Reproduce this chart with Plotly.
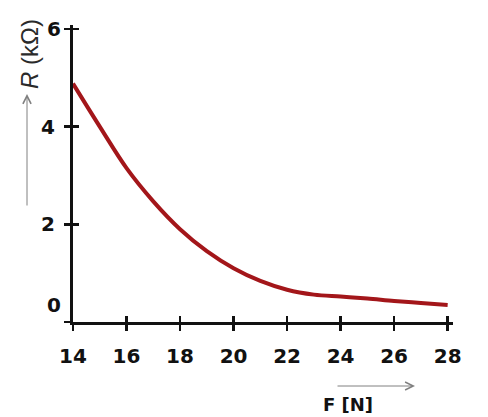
import plotly.graph_objects as go

force_n = [14, 15, 16, 17, 18, 19, 20, 21, 22, 23, 24, 25, 26, 27, 28]
resistance_kohm = [4.88, 4.0, 3.15, 2.47, 1.9, 1.45, 1.1, 0.84, 0.66, 0.56, 0.52, 0.48, 0.43, 0.39, 0.35]
x_ticks = [14, 16, 18, 20, 22, 24, 26, 28]
y_ticks = [0, 2, 4, 6]

W, H = 488, 417
ML, MR, MT, MB = 73, 35, 25, 95
PW, PH = W - ML - MR, H - MT - MB


def px_paper(px, py):
    return (px - ML) / PW, (H - MB - py) / PH


fig = go.Figure()
fig.add_trace(go.Scatter(
    x=force_n, y=resistance_kohm, mode="lines",
    line=dict(color="#a3161a", width=4, shape="spline", smoothing=1.0),
    showlegend=False, hoverinfo="skip",
))
fig.add_trace(go.Scatter(x=[14], y=[0], xaxis="x2", yaxis="y2", mode="markers",
                         marker=dict(opacity=0), showlegend=False, hoverinfo="skip"))

tickfont = dict(family="DejaVu Sans", size=20, color="#111111")
xr = [14, 28.2]
yr = [0, 6.08]

anns = []
# y tick labels "0" (raised above the axis) and "6" (top) drawn as annotations
anns.append(dict(text=f"<b>{y_ticks[0]}</b>", x=0, y=y_ticks[0], xref="paper", yref="y",
                 xanchor="right", yanchor="middle", xshift=-10, yshift=17,
                 showarrow=False, font=tickfont))
anns.append(dict(text=f"<b>{y_ticks[-1]}</b>", x=0, y=y_ticks[-1], xref="paper", yref="y",
                 xanchor="right", yanchor="middle", xshift=-10, yshift=0,
                 showarrow=False, font=tickfont))
x, y = px_paper(29, 54)
anns.append(dict(text="<i>R</i> (kΩ)", x=x, y=y, xref="paper", yref="paper",
                 xanchor="center", yanchor="middle",
                 showarrow=False, textangle=-90,
                 font=dict(family="Liberation Sans", size=24, color="#2a2a2a")))
x, y = px_paper(348, 404)
anns.append(dict(text="<b>F [N]</b>", x=x, y=y, xref="paper", yref="paper", showarrow=False,
                 xanchor="center", yanchor="middle",
                 font=dict(family="DejaVu Sans", size=18, color="#111111")))


def arrow(x0, y0, x1, y1):
    hx, hy = px_paper(x1, y1)
    return dict(x=hx, y=hy, xref="paper", yref="paper", axref="pixel", ayref="pixel",
                ax=x0 - x1, ay=y0 - y1, text="", showarrow=True, arrowhead=5,
                arrowsize=1.6, arrowwidth=1, arrowcolor="#808080")


anns.append(arrow(27, 207, 27, 94))
anns.append(arrow(336, 386, 415, 386))

fig.update_layout(
    width=W, height=H,
    margin=dict(l=ML, r=MR, t=MT, b=MB),
    paper_bgcolor="white", plot_bgcolor="white",
    xaxis=dict(range=xr, tickvals=x_ticks, ticktext=[f"<b>{v}</b>" for v in x_ticks],
               ticks="outside", ticklen=6, tickwidth=2.5, tickcolor="#111111",
               showline=True, linewidth=3, linecolor="#111111",
               showgrid=False, zeroline=False, tickfont=tickfont, ticklabelstandoff=8),
    yaxis=dict(range=yr, tickvals=y_ticks,
               ticktext=["", "<b>2</b>", "<b>4</b>", ""],
               ticks="outside", ticklen=6, tickwidth=2.5, tickcolor="#111111",
               showline=True, linewidth=3, linecolor="#111111",
               showgrid=False, zeroline=False, tickfont=tickfont, ticklabelstandoff=5,
               automargin=False),
    xaxis2=dict(range=xr, overlaying="x", anchor="y", side="bottom", tickvals=x_ticks,
                ticks="inside", ticklen=6, tickwidth=2.5, tickcolor="#111111",
                showticklabels=False, showline=False, showgrid=False, zeroline=False),
    yaxis2=dict(range=yr, overlaying="y", anchor="x", side="left", tickvals=y_ticks,
                ticks="inside", ticklen=6, tickwidth=2.5, tickcolor="#111111",
                showticklabels=False, showline=False, showgrid=False, zeroline=False),
    annotations=anns,
)

fig.write_html("out.html", config={"displayModeBar": False, "staticPlot": True},
               post_script="document.body.style.margin='0';")
